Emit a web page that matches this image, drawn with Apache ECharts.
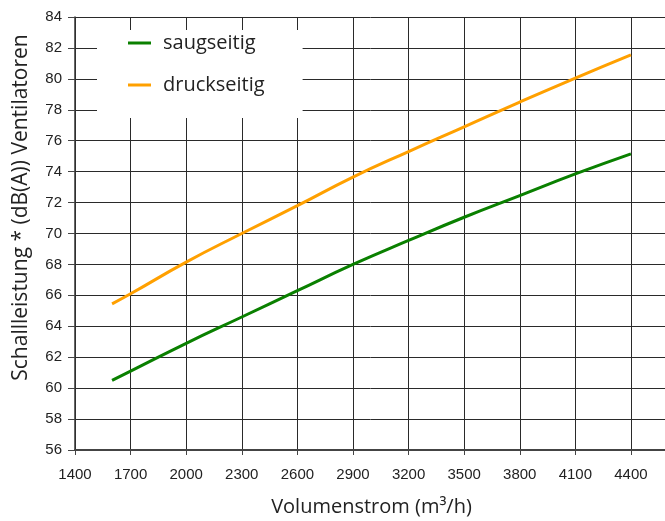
<!DOCTYPE html>
<html>
<head>
<meta charset="utf-8">
<script src="https://cdn.jsdelivr.net/npm/echarts@6/dist/echarts.min.js"></script>
<style>
  html, body { margin: 0; padding: 0; background: #fff; }
  #chart { width: 665px; height: 521px; }
</style>
</head>
<body>
<div id="chart"></div>
<script>
// Volumenstrom (m3/h)
var flow = [1600, 1700, 2000, 2300, 2600, 2900, 3200, 3500, 3800, 4100, 4400];
// saugseitig dB(A)
var saug = [60.5, 61.1, 62.9, 64.6, 66.3, 68.0, 69.55, 71.05, 72.45, 73.85, 75.15];
// druckseitig dB(A)
var druck = [65.45, 66.1, 68.15, 70.0, 71.8, 73.65, 75.3, 76.9, 78.5, 80.05, 81.55];

var chart = echarts.init(document.getElementById('chart'), null, { renderer: 'canvas' });

function pairs(ys) {
  return flow.map(function (x, i) { return [x, ys[i]]; });
}

var gridColor = '#2a2a2a';

var option = {
  animation: false,
  grid: {
    left: 75,
    right: -3,
    top: 17,
    bottom: 71,
    containLabel: false,
    outerBoundsMode: 'none'
  },
  legend: {
    orient: 'vertical',
    left: 97,
    top: 30,
    backgroundColor: '#fff',
    padding: [3, 38, 23, 31],
    itemGap: 22,
    itemWidth: 23,
    itemHeight: 3,
    icon: 'rect',
    textStyle: {
      fontFamily: 'Open Sans',
      fontSize: 20,
      color: '#222',
      padding: [0, 0, 0, 7]
    },
    data: ['saugseitig', 'druckseitig']
  },
  xAxis: {
    type: 'value',
    min: 1400,
    max: 4600,
    interval: 300,
    name: 'Volumenstrom (m³/h)',
    nameLocation: 'middle',
    nameGap: 47,
    nameTextStyle: { fontFamily: 'Open Sans', fontSize: 20, color: '#222' },
    axisLine: { show: true, lineStyle: { color: '#444', width: 2 } },
    axisTick: { show: true, inside: false, length: 5, lineStyle: { color: '#444' } },
    axisLabel: {
      showMaxLabel: false,
      formatter: function (v) { return String(v); },
      fontFamily: 'Liberation Sans',
      fontSize: 15,
      color: '#222',
      margin: 17
    },
    splitLine: { show: true, lineStyle: { color: gridColor, width: 1 } }
  },
  yAxis: {
    type: 'value',
    min: 56,
    max: 84,
    interval: 2,
    name: 'Schallleistung * (dB(A)) Ventilatoren',
    nameLocation: 'middle',
    nameGap: 43,
    nameTextStyle: {
      fontFamily: 'Open Sans',
      fontSize: 21,
      color: '#222',
      padding: [0, 0, 0, 52]
    },
    axisLine: { show: true, lineStyle: { color: '#333', width: 1.5 } },
    axisTick: { show: true, inside: false, length: 7, lineStyle: { color: '#444' } },
    axisLabel: {
      fontFamily: 'Liberation Sans',
      fontSize: 15,
      color: '#222',
      margin: 13
    },
    splitLine: { show: true, lineStyle: { color: gridColor, width: 1 } }
  },
  series: [
    {
      name: 'saugseitig',
      type: 'line',
      smooth: true,
      showSymbol: false,
      symbol: 'none',
      color: '#0a8000',
      lineStyle: { width: 3, color: '#0a8000' },
      data: pairs(saug)
    },
    {
      name: 'druckseitig',
      type: 'line',
      smooth: true,
      showSymbol: false,
      symbol: 'none',
      color: '#ffa000',
      lineStyle: { width: 3, color: '#ffa000' },
      data: pairs(druck)
    }
  ]
};

chart.setOption(option);
</script>
</body>
</html>
